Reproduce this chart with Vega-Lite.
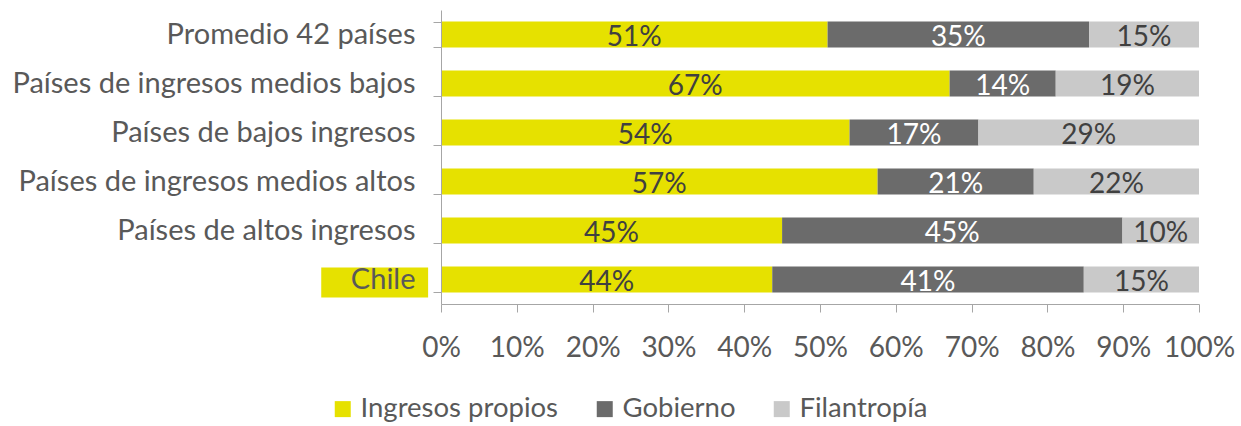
{
  "$schema": "https://vega.github.io/schema/vega-lite/v6.json",
  "autosize": "none",
  "width": 758,
  "height": 294,
  "padding": {"left": 441, "top": 10, "right": 42, "bottom": 122},
  "background": "white",
  "config": {"font": "Lato", "view": {"stroke": null}},
  "data": {"values": [
    {"cat": "Promedio 42 países", "type": "Ingresos propios", "value": 0.51, "label": "51%"},
    {"cat": "Promedio 42 países", "type": "Gobierno", "value": 0.345, "label": "35%"},
    {"cat": "Promedio 42 países", "type": "Filantropía", "value": 0.145, "label": "15%"},
    {"cat": "Países de ingresos medios bajos", "type": "Ingresos propios", "value": 0.671, "label": "67%"},
    {"cat": "Países de ingresos medios bajos", "type": "Gobierno", "value": 0.14, "label": "14%"},
    {"cat": "Países de ingresos medios bajos", "type": "Filantropía", "value": 0.189, "label": "19%"},
    {"cat": "Países de bajos ingresos", "type": "Ingresos propios", "value": 0.539, "label": "54%"},
    {"cat": "Países de bajos ingresos", "type": "Gobierno", "value": 0.17, "label": "17%"},
    {"cat": "Países de bajos ingresos", "type": "Filantropía", "value": 0.291, "label": "29%"},
    {"cat": "Países de ingresos medios altos", "type": "Ingresos propios", "value": 0.576, "label": "57%"},
    {"cat": "Países de ingresos medios altos", "type": "Gobierno", "value": 0.206, "label": "21%"},
    {"cat": "Países de ingresos medios altos", "type": "Filantropía", "value": 0.218, "label": "22%"},
    {"cat": "Países de altos ingresos", "type": "Ingresos propios", "value": 0.45, "label": "45%"},
    {"cat": "Países de altos ingresos", "type": "Gobierno", "value": 0.449, "label": "45%"},
    {"cat": "Países de altos ingresos", "type": "Filantropía", "value": 0.101, "label": "10%"},
    {"cat": "Chile", "type": "Ingresos propios", "value": 0.437, "label": "44%"},
    {"cat": "Chile", "type": "Gobierno", "value": 0.411, "label": "41%"},
    {"cat": "Chile", "type": "Filantropía", "value": 0.152, "label": "15%"}
  ]},
  "encoding": {
    "y": {
      "field": "cat", "type": "nominal",
      "sort": ["Promedio 42 países", "Países de ingresos medios bajos", "Países de bajos ingresos", "Países de ingresos medios altos", "Países de altos ingresos", "Chile"],
      "scale": {"paddingInner": 0.47, "paddingOuter": 0.235},
      "axis": {
        "title": null, "zindex": 1, "tickBand": "extent",
        "domainColor": "#a6a6a6", "tickColor": "#a6a6a6", "tickSize": 8,
        "labelFont": "Lato", "labelFontSize": 29, "labelColor": "#595959",
        "labelPadding": 18, "labelLimit": 600
      }
    }
  },
  "layer": [
    {
      "transform": [{"filter": "datum.cat === 'Chile' && datum.type === 'Gobierno'"}],
      "mark": {"type": "bar", "color": "#E6E100", "height": {"band": 1.15}, "yOffset": 3, "clip": false},
      "encoding": {
        "x": {"datum": -0.158, "type": "quantitative"},
        "x2": {"datum": -0.017}
      }
    },
    {
      "mark": {"type": "bar"},
      "encoding": {
        "x": {
          "field": "value", "type": "quantitative", "stack": "zero",
          "scale": {"domain": [0, 1], "nice": false, "zero": false},
          "axis": {
            "title": null, "format": ".0%", "values": [0, 0.1, 0.2, 0.3, 0.4, 0.5, 0.6, 0.7, 0.8, 0.9, 1],
            "grid": false, "domainColor": "#a6a6a6", "tickColor": "#a6a6a6", "tickSize": 8,
            "labelFont": "Lato", "labelFontSize": 28, "labelColor": "#595959", "labelPadding": 22,
            "labelFlush": false, "labelOverlap": false
          }
        },
        "color": {
          "field": "type", "type": "nominal",
          "scale": {"domain": ["Ingresos propios", "Gobierno", "Filantropía"], "range": ["#E6E100", "#6B6B6B", "#C9C9C9"]},
          "legend": {
            "title": null, "orient": "none", "direction": "horizontal", "legendX": -112, "legendY": 385,
            "symbolType": "square", "symbolSize": 256, "symbolStrokeWidth": 0, "symbolOpacity": 1,
            "labelFont": "Lato", "labelFontSize": 27.5, "labelColor": "#595959", "labelOffset": 4,
            "labelLimit": 400, "columnPadding": 32
          }
        },
        "order": {"field": "type", "sort": "descending"}
      }
    },
    {
      "mark": {"type": "text", "fontSize": 28, "font": "Lato", "baseline": "middle", "dy": 3},
      "encoding": {
        "x": {"field": "value", "type": "quantitative", "stack": "zero", "bandPosition": 0.5},
        "text": {"field": "label"},
        "detail": {"field": "type"},
        "order": {"field": "type", "sort": "descending"},
        "color": {"condition": {"test": "datum.type === 'Gobierno'", "value": "#ffffff"}, "value": "#404040"}
      }
    }
  ]
}
